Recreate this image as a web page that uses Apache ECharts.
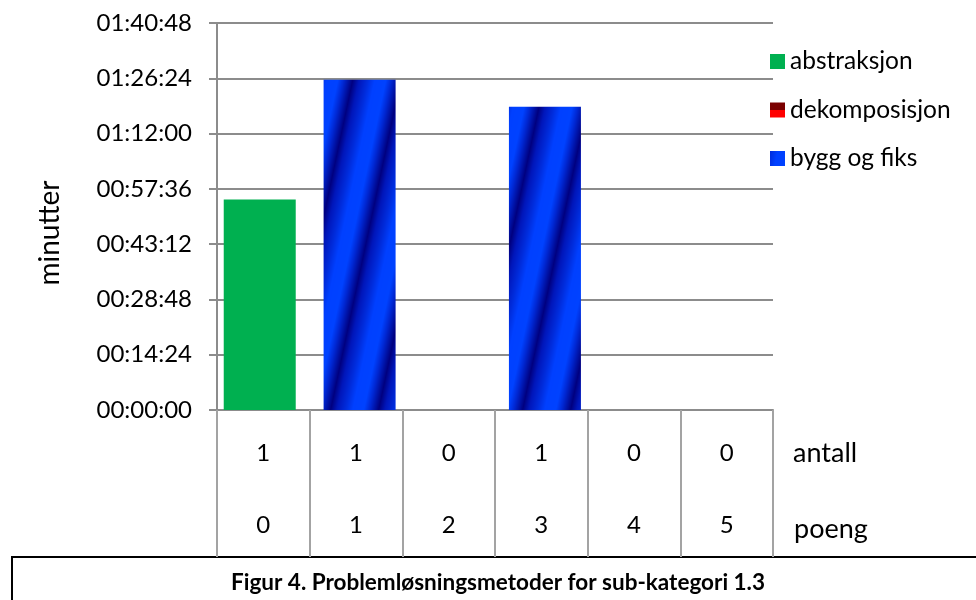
<!DOCTYPE html>
<html>
<head>
<meta charset="utf-8">
<script src="https://cdn.jsdelivr.net/npm/echarts@6/dist/echarts.min.js"></script>
<style>
  html, body { margin: 0; padding: 0; background: #fff; }
  #chart { width: 976px; height: 600px; }
</style>
</head>
<body>
<div id="chart"></div>
<script>
// Points scored (category axis) and how many solutions fall in each group
const poeng = ['0', '1', '2', '3', '4', '5'];
const antall = [1, 1, 0, 1, 0, 0];

// Time spent per problem-solving method, as hh:mm:ss
const abstraksjon   = ['00:54:50', null, null, null, null, null];
const dekomposisjon = [null, null, null, null, null, null];
const byggOgFiks    = [null, '01:26:00', null, '01:19:00', null, null];

// Y-axis tick labels are generated from these bounds (seconds)
const yMax = 6048;      // 01:40:48
const yStep = 864;      // 00:14:24

const FONT = 'Lato';
const FS = 24;

function toSeconds(t) {
  if (t == null) return null;
  const [h, m, s] = t.split(':').map(Number);
  return h * 3600 + m * 60 + s;
}
function toClock(sec) {
  const h = Math.floor(sec / 3600), m = Math.floor((sec % 3600) / 60), s = sec % 60;
  const p = n => String(n).padStart(2, '0');
  return p(h) + ':' + p(m) + ':' + p(s);
}

// Repeating slanted blue stripe tile for the "bygg og fiks" fill
function stripeTile() {
  const P = 48, H = 226, slope = P / H;
  const stops = [
    [0.00, [0, 44, 220]],
    [0.15, [0, 64, 255]],
    [0.38, [0, 66, 255]],
    [0.50, [0, 40, 212]],
    [0.69, [0, 0, 128]],
    [0.82, [0, 22, 186]],
    [1.00, [0, 44, 220]]
  ];
  const c = document.createElement('canvas');
  c.width = P; c.height = H;
  const ctx = c.getContext('2d');
  const img = ctx.createImageData(P, H);
  for (let y = 0; y < H; y++) {
    for (let x = 0; x < P; x++) {
      let t = ((x + slope * y) % P) / P;
      let i = 0;
      while (i < stops.length - 2 && t > stops[i + 1][0]) i++;
      const [t0, c0] = stops[i], [t1, c1] = stops[i + 1];
      const f = (t - t0) / (t1 - t0);
      const k = (y * P + x) * 4;
      img.data[k]     = Math.round(c0[0] + (c1[0] - c0[0]) * f);
      img.data[k + 1] = Math.round(c0[1] + (c1[1] - c0[1]) * f);
      img.data[k + 2] = Math.round(c0[2] + (c1[2] - c0[2]) * f);
      img.data[k + 3] = 255;
    }
  }
  ctx.putImageData(img, 0, 0);
  return c;
}

const GRAY = '#8c8c8c';
const chart = echarts.init(document.getElementById('chart'), null, { renderer: 'canvas' });

const barCommon = { type: 'bar', barWidth: 72, barGap: '-95%' };

chart.setOption({
  animation: false,
  textStyle: { fontFamily: FONT },
  grid: { left: 217, right: 203, top: 23, bottom: 190, containLabel: false },
  legend: {
    orient: 'vertical',
    left: 765,
    top: 44,
    itemWidth: 15,
    itemHeight: 15,
    itemGap: 23.5,
    icon: 'rect',
    textStyle: { fontFamily: FONT, fontSize: 24.5, color: '#000' },
    data: ['abstraksjon', 'dekomposisjon', 'bygg og fiks']
  },
  xAxis: {
    type: 'category',
    data: poeng,
    axisLine: { show: true, lineStyle: { color: GRAY, width: 2 } },
    axisTick: { show: true, interval: 0, length: 147, lineStyle: { color: '#a3a3a3', width: 2 } },
    axisLabel: {
      interval: 0,
      margin: 7,
      fontFamily: FONT,
      fontSize: FS,
      color: '#000',
      lineHeight: 72,
      formatter: (v, i) => antall[i] + '\n' + v
    },
    splitLine: { show: false }
  },
  yAxis: {
    type: 'value',
    min: 0,
    max: yMax,
    interval: yStep,
    axisLine: { show: true, lineStyle: { color: GRAY, width: 2 } },
    axisTick: { show: true, length: 8, lineStyle: { color: GRAY, width: 2 } },
    axisLabel: {
      margin: 25,
      fontFamily: FONT,
      fontSize: FS,
      color: '#000',
      formatter: v => toClock(v)
    },
    splitLine: { show: true, lineStyle: { color: GRAY, width: 2 } }
  },
  series: [
    Object.assign({}, barCommon, {
      name: 'abstraksjon',
      itemStyle: { color: '#00b050' },
      data: abstraksjon.map(toSeconds)
    }),
    Object.assign({}, barCommon, {
      name: 'dekomposisjon',
      itemStyle: {
        color: new echarts.graphic.LinearGradient(0, 0, 0, 1, [
          { offset: 0, color: '#7a0000' },
          { offset: 0.5, color: '#7a0000' },
          { offset: 0.5, color: '#ff0000' },
          { offset: 1, color: '#ff0000' }
        ])
      },
      data: dekomposisjon.map(toSeconds)
    }),
    Object.assign({}, barCommon, {
      name: 'bygg og fiks',
      itemStyle: { color: { image: stripeTile(), repeat: 'repeat' } },
      data: byggOgFiks.map(toSeconds)
    })
  ],
  graphic: [
    // vertical axis title
    {
      type: 'text', x: 50, y: 233, rotation: Math.PI / 2,
      style: {
        text: 'minutter', fontFamily: FONT, fontSize: 28, fill: '#000',
        align: 'center', verticalAlign: 'middle'
      }
    },
    // row headers of the data table under the axis
    {
      type: 'text', x: 793, y: 453,
      style: { text: 'antall', fontFamily: FONT, fontSize: 27, fill: '#000', verticalAlign: 'middle' }
    },
    {
      type: 'text', x: 794, y: 529,
      style: { text: 'poeng', fontFamily: FONT, fontSize: 27, fill: '#000', verticalAlign: 'middle' }
    },
    // caption box
    {
      type: 'rect',
      shape: { x: 12, y: 557, width: 1000, height: 100 },
      style: { fill: '#fff', stroke: '#000', lineWidth: 2 }
    },
    {
      type: 'text', x: 498, y: 583,
      style: {
        text: 'Figur 4. Problemløsningsmetoder for sub-kategori 1.3',
        fontFamily: FONT, fontSize: 22.5, fontWeight: 'bold', fill: '#000',
        align: 'center', verticalAlign: 'middle'
      }
    }
  ]
});
</script>
</body>
</html>
